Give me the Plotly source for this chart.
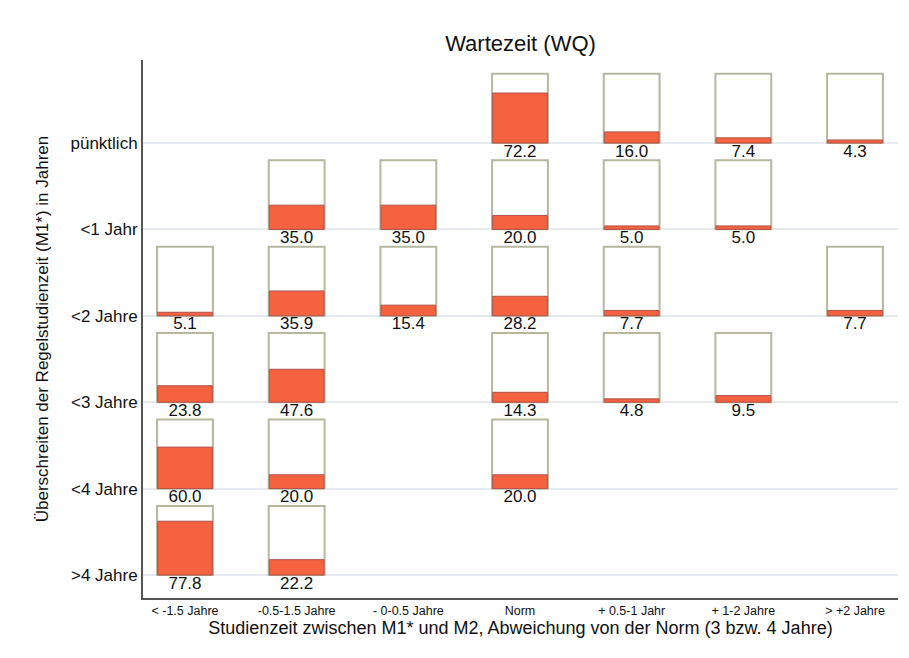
import plotly.graph_objects as go

columns = ["< -1.5 Jahre", "-0.5-1.5 Jahre", "- 0-0.5 Jahre", "Norm",
           "+ 0.5-1 Jahr", "+ 1-2 Jahre", "> +2 Jahre"]
rows = ["pünktlich", "<1 Jahr", "<2 Jahre", "<3 Jahre", "<4 Jahre", ">4 Jahre"]

row_puenktlich = [None, None, None, 72.2, 16.0, 7.4, 4.3]
row_lt1 = [None, 35.0, 35.0, 20.0, 5.0, 5.0, None]
row_lt2 = [5.1, 35.9, 15.4, 28.2, 7.7, None, 7.7]
row_lt3 = [23.8, 47.6, None, 14.3, 4.8, 9.5, None]
row_lt4 = [60.0, 20.0, None, 20.0, None, None, None]
row_gt4 = [77.8, 22.2, None, None, None, None, None]

all_rows = [row_puenktlich, row_lt1, row_lt2, row_lt3, row_lt4, row_gt4]

BOX_H = 0.8
FONT = "Liberation Sans, Arial, sans-serif"

bx, bbase, fy, tx, ty, tt = [], [], [], [], [], []
for ri, vals in enumerate(all_rows):
    ypos = len(rows) - 1 - ri
    for ci, v in enumerate(vals):
        if v is None:
            continue
        bx.append(ci)
        bbase.append(ypos)
        fy.append(BOX_H * v / 100.0)
        tx.append(ci)
        ty.append(ypos - 0.01)
        tt.append(f"{v:.1f}")

fig = go.Figure()
fig.add_trace(go.Bar(
    x=bx, y=[BOX_H] * len(bx), base=bbase, width=0.5,
    marker=dict(color="white", line=dict(color="#b7b79e", width=2)),
    hoverinfo="skip", showlegend=False))
fig.add_trace(go.Bar(
    x=bx, y=fy, base=bbase, width=0.49,
    marker=dict(color="#f4623f", line=dict(color="#b0524a", width=1)),
    showlegend=False))
fig.add_trace(go.Scatter(
    x=tx, y=ty, mode="text", text=tt, textposition="bottom center",
    textfont=dict(family=FONT, size=17, color="#111111"),
    hoverinfo="skip", showlegend=False))

fig.update_layout(
    width=901, height=650,
    margin=dict(l=135, r=11, t=52, b=60),
    paper_bgcolor="white", plot_bgcolor="white",
    barmode="overlay",
    title=dict(text="Wartezeit (WQ)", x=0.5, xref="paper", y=0.945, yref="container",
               xanchor="center", yanchor="middle",
               font=dict(family=FONT, size=22, color="#111111")),
    xaxis=dict(
        range=[-0.376, 6.385],
        tickmode="array", tickvals=list(range(len(columns))), ticktext=columns,
        tickfont=dict(family=FONT, size=12.5, color="#111111"),
        showgrid=False, zeroline=False,
        showline=True, linecolor="#555555", linewidth=2,
        ticks="", ticklen=0,
        title=dict(text="Studienzeit zwischen M1* und M2, Abweichung von der Norm (3 bzw. 4 Jahre)",
                   font=dict(family=FONT, size=18, color="#111111"), standoff=0),
    ),
    yaxis=dict(
        range=[-0.266, 5.96],
        tickmode="array", tickvals=list(range(len(rows))), ticktext=rows[::-1],
        tickfont=dict(family=FONT, size=17, color="#111111"),
        showgrid=True, gridcolor="#e6e9ee", gridwidth=1.5, zeroline=False,
        showline=True, linecolor="#555555", linewidth=2,
        ticks="", ticklen=0,
        title=dict(text="Überschreiten der Regelstudienzeit (M1*) in Jahren",
                   font=dict(family=FONT, size=17, color="#111111"), standoff=18),
    ),
)

fig.write_html("out.html")
